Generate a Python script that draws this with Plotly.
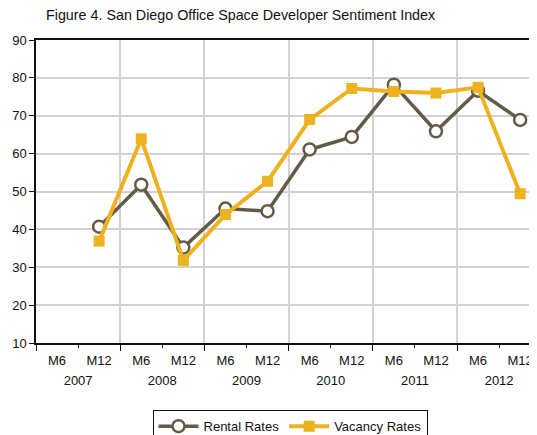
import plotly.graph_objects as go

years = ["2007", "2008", "2009", "2010", "2011", "2012"]
halves = ["M6", "M12"] * 6
rental = [None, 40.7, 51.8, 35.2, 45.5, 44.8, 61.1, 64.4, 78.2, 65.9, 76.6, 68.9]
vacancy = [None, 36.9, 63.9, 31.8, 43.9, 52.7, 69.0, 77.2, 76.4, 76.0, 77.5, 49.4]

idx = list(range(len(halves)))
xr = [-0.5, 11.4]
font = "Liberation Sans, Arial, sans-serif"

# the page body has an 8px default margin, so the figure is sized to fill the rest
W, H = 529, 427

fig = go.Figure()
fig.add_trace(go.Scatter(
    x=idx, y=rental, name="Rental Rates", mode="lines+markers",
    line=dict(color="#645a48", width=3.5),
    marker=dict(symbol="circle", size=12, color="white",
                line=dict(color="#645a48", width=2.5)),
))
fig.add_trace(go.Scatter(
    x=idx, y=vacancy, name="Vacancy Rates", mode="lines+markers",
    line=dict(color="#eeb120", width=4),
    marker=dict(symbol="square", size=11, color="#eeb120"),
))

year_bounds = [i * 2 - 0.5 for i in range(len(years) + 1)]
half_bounds = [i * 2 + 0.5 for i in range(len(years))]
year_centers = [i * 2 + 0.5 for i in range(len(years))]

fig.update_layout(
    width=W, height=H,
    margin=dict(l=28, r=0, t=32, b=92, autoexpand=False),
    paper_bgcolor="white", plot_bgcolor="white",
    font=dict(family=font, size=13, color="#111"),
    title=dict(text="Figure 4. San Diego Office Space Developer Sentiment Index",
               x=38 / W, xanchor="left", xref="container",
               y=1 - 7 / H, yanchor="middle", yref="container",
               automargin=False,
               font=dict(family=font, size=14.3, color="#111")),
    showlegend=True,
    legend=dict(orientation="h", x=0.507, xanchor="center", y=-0.222, yanchor="top",
                bordercolor="#111", borderwidth=1, bgcolor="white",
                font=dict(family=font, size=13), itemwidth=40,
                tracegroupgap=0),
    xaxis=dict(
        range=xr, tickmode="array", tickvals=year_bounds, showticklabels=False,
        ticks="outside", ticklen=6, tickcolor="#111", tickwidth=1,
        showgrid=True, gridcolor="#d2d2d2", gridwidth=1.5,
        showline=True, linecolor="#111", linewidth=1.5, mirror=True,
        zeroline=False, automargin=False,
        minor=dict(tickmode="array", tickvals=half_bounds, ticks="outside",
                   ticklen=3, tickcolor="#111", showgrid=False),
    ),
    xaxis2=dict(
        overlaying="x", side="bottom", anchor="y", matches="x", range=xr,
        tickmode="array", tickvals=idx, ticktext=halves, ticks="",
        showgrid=False, showline=False, zeroline=False, automargin=False,
        tickfont=dict(family=font, size=13, color="#111"),
        ticklabelstandoff=8,
    ),
    xaxis3=dict(
        overlaying="x", side="bottom", anchor="y", matches="x", range=xr,
        tickmode="array", tickvals=year_centers, ticktext=years, ticks="",
        showgrid=False, showline=False, zeroline=False, automargin=False,
        tickfont=dict(family=font, size=13, color="#111"),
        ticklabelstandoff=28,
    ),
    yaxis=dict(
        range=[10, 90], tickmode="linear", tick0=10, dtick=10,
        ticks="outside", ticklen=5, tickcolor="#111",
        showgrid=True, gridcolor="#d2d2d2", gridwidth=1.5,
        showline=True, linecolor="#111", linewidth=1.5, mirror=True,
        zeroline=False, automargin=False,
        tickfont=dict(family=font, size=13, color="#111"),
    ),
)

# invisible traces to activate overlay axes
fig.add_trace(go.Scatter(x=[None], y=[None], xaxis="x2", showlegend=False, hoverinfo="skip"))
fig.add_trace(go.Scatter(x=[None], y=[None], xaxis="x3", showlegend=False, hoverinfo="skip"))

fig.write_html("out.html")
